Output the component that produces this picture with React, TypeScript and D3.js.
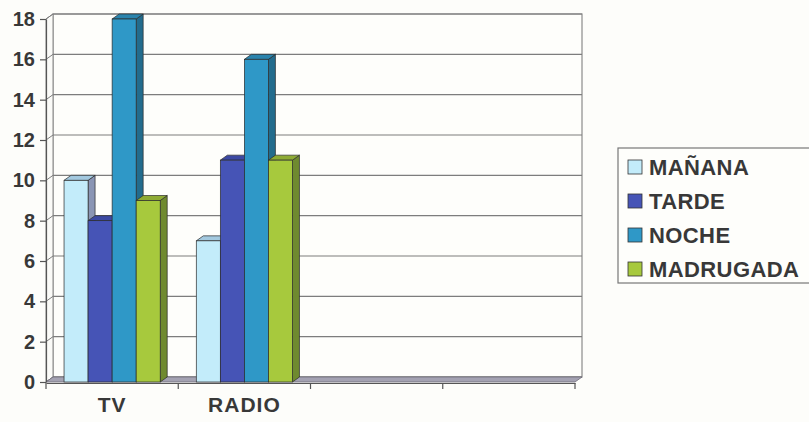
import { useEffect, useRef } from 'react';
import * as d3 from 'd3';

const categories = ['TV', 'RADIO', '', ''];
const seriesNames = ['MAÑANA', 'TARDE', 'NOCHE', 'MADRUGADA'];
const manana = [10, 7];
const tarde = [8, 11];
const noche = [18, 16];
const madrugada = [9, 11];
const yTicks = [0, 2, 4, 6, 8, 10, 12, 14, 16, 18];

const seriesValues = [manana, tarde, noche, madrugada];

const palette = [
  { front: '#c3ecfa', top: '#a3c9df', side: '#8a95b4' },
  { front: '#4654b6', top: '#3c49a2', side: '#2f3882' },
  { front: '#2f98c7', top: '#2b84ad', side: '#236c8d' },
  { front: '#a7c93d', top: '#8eab34', side: '#6f8a2f' },
];

export default function App() {
  const svgRef = useRef<SVGSVGElement>(null);

  useEffect(() => {
    if (!svgRef.current) return;
    const W = 809;
    const H = 422;
    const dx = 7;
    const dy = -5;
    const left = 46;
    const right = 575;
    const bottom = 382;
    const top = 19;
    const font = '"Liberation Sans", Arial, sans-serif';
    const textColor = '#383838';

    const svg = d3.select(svgRef.current);
    svg.selectAll('*').remove();
    svg.attr('width', W).attr('height', H);

    svg.append('rect').attr('width', W).attr('height', H).attr('fill', '#fdfdfa');

    const x0 = d3.scaleBand<string>()
      .domain(categories.map((c, i) => `${i}`))
      .range([left, right])
      .padding(0);
    const bw = x0.bandwidth();
    const gap = (bw * 1.5) / 5.5;
    const x1 = d3.scaleBand<string>()
      .domain(seriesNames)
      .range([gap / 2, bw - gap / 2])
      .padding(0);

    const y = d3.scaleLinear().domain([0, 18]).range([bottom, top]);

    const g = svg.append('g');
    const wallStroke = '#8a8a8a';

    // back wall
    g.append('rect')
      .attr('x', left + dx)
      .attr('y', y(18) + dy)
      .attr('width', right - left)
      .attr('height', y(0) - y(18))
      .attr('fill', '#fefefb')
      .attr('stroke', wallStroke)
      .attr('stroke-width', 1.2);

    // side wall
    g.append('path')
      .attr('d', `M${left},${y(0)}L${left},${y(18)}L${left + dx},${y(18) + dy}L${left + dx},${y(0) + dy}Z`)
      .attr('fill', '#fbfbf8')
      .attr('stroke', wallStroke)
      .attr('stroke-width', 1);

    // grid
    yTicks.forEach(t => {
      g.append('line')
        .attr('x1', left + dx).attr('x2', right + dx)
        .attr('y1', y(t) + dy).attr('y2', y(t) + dy)
        .attr('stroke', '#7d7d7d').attr('stroke-width', 1.1);
      g.append('line')
        .attr('x1', left).attr('x2', left + dx)
        .attr('y1', y(t)).attr('y2', y(t) + dy)
        .attr('stroke', '#7d7d7d').attr('stroke-width', 1);
    });

    // floor
    g.append('path')
      .attr('d', `M${left},${y(0)}L${right},${y(0)}L${right + dx},${y(0) + dy}L${left + dx},${y(0) + dy}Z`)
      .attr('fill', '#a4a2b2')
      .attr('stroke', '#6e6c7a')
      .attr('stroke-width', 0.8);

    // bars
    const edge = '#2b2b2b';
    categories.forEach((_, ci) => {
      seriesNames.forEach((s, si) => {
        const v = seriesValues[si][ci];
        if (v === undefined) return;
        const bx = (x0(`${ci}`) as number) + (x1(s) as number);
        const w = x1.bandwidth();
        const yt = y(v);
        const yb = y(0);
        const c = palette[si];
        g.append('path')
          .attr('d', `M${bx + w},${yb}L${bx + w},${yt}L${bx + w + dx},${yt + dy}L${bx + w + dx},${yb + dy}Z`)
          .attr('fill', c.side).attr('stroke', edge).attr('stroke-width', 0.7).attr('stroke-linejoin', 'round');
        g.append('path')
          .attr('d', `M${bx},${yt}L${bx + w},${yt}L${bx + w + dx},${yt + dy}L${bx + dx},${yt + dy}Z`)
          .attr('fill', c.top).attr('stroke', edge).attr('stroke-width', 0.7).attr('stroke-linejoin', 'round');
        g.append('rect')
          .attr('x', bx).attr('y', yt).attr('width', w).attr('height', yb - yt)
          .attr('fill', c.front).attr('stroke', edge).attr('stroke-width', 0.7);
      });
    });

    // y axis
    const yAxis = g.append('g')
      .attr('transform', `translate(${left},0)`)
      .call(d3.axisLeft(y).tickValues(yTicks).tickSize(6).tickPadding(5).tickSizeOuter(0));
    yAxis.select('.domain').attr('stroke', '#555').attr('stroke-width', 1.2);
    yAxis.selectAll('line').attr('stroke', '#555').attr('stroke-width', 1.2);
    yAxis.selectAll('text')
      .attr('fill', textColor)
      .style('font-family', font)
      .style('font-size', '20px')
      .style('font-weight', 'bold');

    // x axis
    const xAxis = g.append('g')
      .attr('transform', `translate(0,${bottom + 1})`)
      .call(d3.axisBottom(x0).tickSize(0).tickPadding(14).tickFormat((d) => categories[+d]));
    xAxis.select('.domain').attr('stroke', '#555').attr('stroke-width', 1.2);
    xAxis.selectAll('text')
      .attr('fill', textColor)
      .style('font-family', font)
      .style('font-size', '21px')
      .style('font-weight', 'bold')
      .attr('dy', '0.71em')
      .attr('letter-spacing', '1px');
    const catEdges = [...categories.map((_, i) => x0(`${i}`) as number), right];
    catEdges.forEach(cx => {
      xAxis.append('line')
        .attr('x1', cx).attr('x2', cx).attr('y1', 0).attr('y2', 6)
        .attr('stroke', '#555').attr('stroke-width', 1.2);
    });

    // legend
    const lg = svg.append('g');
    lg.append('rect')
      .attr('x', 618).attr('y', 148).attr('width', 200).attr('height', 135)
      .attr('fill', '#fefefb').attr('stroke', '#777').attr('stroke-width', 1.2);
    const ly = d3.scalePoint<string>().domain(seriesNames).range([167, 269]);
    seriesNames.forEach((s, i) => {
      const yy = ly(s) as number;
      lg.append('rect')
        .attr('x', 628).attr('y', yy - 7).attr('width', 14).attr('height', 14)
        .attr('fill', palette[i].front).attr('stroke', '#333').attr('stroke-width', 0.8);
      lg.append('text')
        .attr('x', 649).attr('y', yy).attr('dy', '0.36em')
        .attr('fill', textColor)
        .style('font-family', font)
        .style('font-size', '22px')
        .style('font-weight', 'bold')
        .attr('letter-spacing', '0.4px')
        .text(s);
    });
  }, []);

  return <svg ref={svgRef} style={{ position: 'absolute', left: 0, top: 0 }} />;
}
